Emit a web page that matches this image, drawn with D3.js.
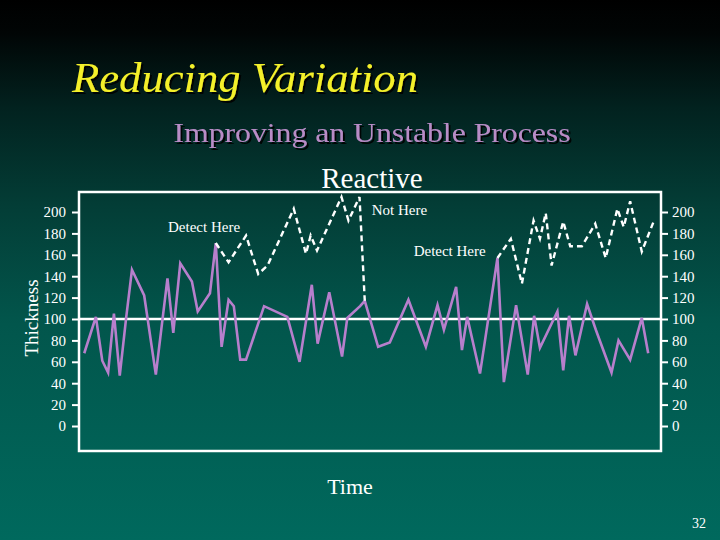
<!DOCTYPE html>
<html>
<head>
<meta charset="utf-8">
<script src="https://cdn.jsdelivr.net/npm/d3@7/dist/d3.min.js"></script>
<style>
  html, body { margin: 0; padding: 0; background: #000; }
  svg { display: block; }
</style>
</head>
<body>
<svg id="chart" width="720" height="540"></svg>
<script>
// ---------------- DATA ----------------
const yTicks = [0, 20, 40, 60, 80, 100, 120, 140, 160, 180, 200];
const centerLine = 100;

// Process (purple) – time and thickness
const processTime = [0.9,2.9,4.0,5.0,6.0,7.0,8.1,9.1,11.2,13.2,15.2,16.2,17.4,19.4,20.4,22.5,23.5,24.5,25.7,26.6,
  27.7,28.7,31.8,35.8,37.9,40.0,41.0,43.0,45.2,46.1,48.3,49.1,51.4,53.4,56.6,59.6,61.6,62.7,64.8,65.8,
  66.7,68.9,71.9,73.0,75.1,77.1,78.2,79.2,82.2,83.2,84.2,85.3,87.3,88.8,91.5,92.7,94.7,96.7,97.8];
const processValue = [68,102,61,50,105,47,101,146,122,48,138,87,152,135,107,124,171,74,118,112,
  62,62,112,102,60,132,77,125,65,101,112,117,74,78,118,74,113,90,130,71,
  102,49,157,41,113,48,103,73,107,52,103,66,114,90,50,80,62,101,68];

// Reactive adjustments (white dashed)
const reactive1Time  = [23.5,25.7,28.7,30.8,32.4,36.9,39.0,39.8,40.9,45.1,46.3,48.2,49.1];
const reactive1Value = [171,153,178,142,150,203,161,178,164,214,192,214,117];
const reactive2Time  = [71.9,74.2,76.1,78.1,79.2,80.2,81.2,83.2,84.4,86.4,88.7,90.5,92.5,93.6,94.7,96.7,98.8];
const reactive2Value = [157,175,133,192,175,199,150,191,168,168,189,157,203,186,210,163,192];

const annotations = [
  { text: "Detect Here", t: 15.3, v: 181 },
  { text: "Not Here",    t: 50.3, v: 197 },
  { text: "Detect Here", t: 57.5, v: 159 }
];

// ---------------- DRAW ----------------
const svg = d3.select("#chart");
const W = 720, H = 540;
const plot = { left: 79, right: 661, top: 192, bottom: 451 };

const defs = svg.append("defs");
const bg = defs.append("linearGradient").attr("id", "bg")
  .attr("x1", 0).attr("y1", 0).attr("x2", 0).attr("y2", 1);
[["0%", "#000000"], ["6%", "#010505"], ["20%", "#02221f"], ["38%", "#033d36"],
 ["60%", "#02564c"], ["100%", "#00695d"]].forEach(([o, c]) =>
  bg.append("stop").attr("offset", o).attr("stop-color", c));
const sh = defs.append("filter").attr("id", "shadow")
  .attr("x", "-10%").attr("y", "-20%").attr("width", "130%").attr("height", "150%");
sh.append("feDropShadow").attr("dx", 2).attr("dy", 2).attr("stdDeviation", 0.6)
  .attr("flood-color", "#000").attr("flood-opacity", 0.9);

svg.append("rect").attr("width", W).attr("height", H).attr("fill", "url(#bg)");

const serif = "'Liberation Serif', 'Times New Roman', serif";

// Titles
svg.append("text").attr("x", 72).attr("y", 92)
  .attr("font-family", serif).attr("font-style", "italic").attr("font-size", 42)
  .attr("fill", "#f4f02a").attr("filter", "url(#shadow)")
  .attr("textLength", 346).attr("lengthAdjust", "spacingAndGlyphs")
  .text("Reducing Variation");

svg.append("text").attr("x", 372).attr("y", 142).attr("text-anchor", "middle")
  .attr("font-family", serif).attr("font-size", 28)
  .attr("fill", "#b88cc6").attr("filter", "url(#shadow)")
  .attr("textLength", 397).attr("lengthAdjust", "spacingAndGlyphs")
  .text("Improving an Unstable Process");

svg.append("text").attr("x", 372).attr("y", 188).attr("text-anchor", "middle")
  .attr("font-family", serif).attr("font-size", 29)
  .attr("fill", "#ffffff")
  .text("Reactive");

// Scales
const x = d3.scaleLinear().domain([0, 100]).range([plot.left, plot.right]);
const y = d3.scaleLinear().domain([0, 200]).range([426, 212]);

// Axes
const leftAxis = d3.axisLeft(y).tickValues(yTicks).tickSize(7).tickPadding(6);
const rightAxis = d3.axisRight(y).tickValues(yTicks).tickSize(7).tickPadding(4);

function styleAxis(g) {
  g.select(".domain").remove();
  g.selectAll("line").attr("stroke", "#ffffff").attr("stroke-width", 2);
  g.selectAll("text").attr("fill", "#ffffff").attr("font-family", serif).attr("font-size", 15);
}
svg.append("g").attr("transform", `translate(${plot.left},0)`).call(leftAxis).call(styleAxis);
svg.append("g").attr("transform", `translate(${plot.right},0)`).call(rightAxis).call(styleAxis);

// Plot frame
svg.append("rect")
  .attr("x", plot.left).attr("y", plot.top)
  .attr("width", plot.right - plot.left).attr("height", plot.bottom - plot.top)
  .attr("fill", "none").attr("stroke", "#ffffff").attr("stroke-width", 2.5);

// Center line
svg.append("line")
  .attr("x1", plot.left).attr("x2", plot.right)
  .attr("y1", y(centerLine)).attr("y2", y(centerLine))
  .attr("stroke", "#ffffff").attr("stroke-width", 2.5);

// Process line
const line = d3.line().x(d => x(d[0])).y(d => y(d[1]));
const processData = processTime.map((t, i) => [t, processValue[i]]);
svg.append("path").datum(processData)
  .attr("d", line).attr("fill", "none")
  .attr("stroke", "#b77fcc").attr("stroke-width", 2.6).attr("stroke-linejoin", "miter");

// Reactive dashed lines
[[reactive1Time, reactive1Value], [reactive2Time, reactive2Value]].forEach(([ts, vs]) => {
  svg.append("path").datum(ts.map((t, i) => [t, vs[i]]))
    .attr("d", line).attr("fill", "none")
    .attr("stroke", "#ffffff").attr("stroke-width", 2.4)
    .attr("stroke-dasharray", "6,4");
});

// Annotations
svg.selectAll(".ann").data(annotations).enter().append("text")
  .attr("class", "ann")
  .attr("x", d => x(d.t)).attr("y", d => y(d.v))
  .attr("font-family", serif).attr("font-size", 15).attr("fill", "#ffffff")
  .text(d => d.text);

// Axis titles
svg.append("text")
  .attr("transform", "translate(38,318) rotate(-90)")
  .attr("text-anchor", "middle")
  .attr("font-family", serif).attr("font-size", 19).attr("fill", "#ffffff")
  .text("Thickness");

svg.append("text").attr("x", 350).attr("y", 494).attr("text-anchor", "middle")
  .attr("font-family", serif).attr("font-size", 22).attr("fill", "#ffffff")
  .text("Time");

svg.append("text").attr("x", 706).attr("y", 528).attr("text-anchor", "end")
  .attr("font-family", serif).attr("font-size", 14).attr("fill", "#ffffff")
  .text("32");
</script>
</body>
</html>
